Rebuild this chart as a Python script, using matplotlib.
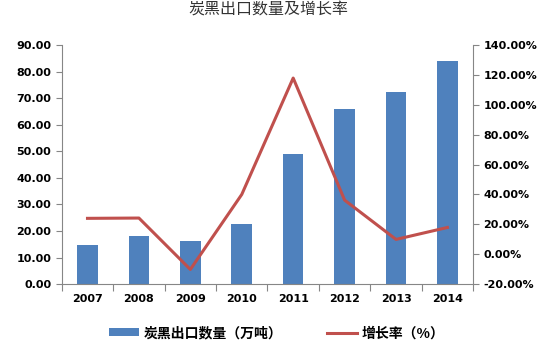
import matplotlib.pyplot as plt
import numpy as np
from matplotlib.ticker import FuncFormatter

plt.rcParams['font.family'] = ['Noto Sans CJK SC', 'DejaVu Sans']
plt.rcParams['axes.unicode_minus'] = False

years = ['2007', '2008', '2009', '2010', '2011', '2012', '2013', '2014']
export_qty = [14.7, 18.2, 16.4, 22.8, 49.1, 65.8, 72.2, 83.8]   # 万吨
growth = [24.0, 24.2, -10.2, 40.0, 117.9, 36.2, 9.9, 17.9]      # %

bar_color = '#4F81BD'
line_color = '#C0504D'
axis_gray = '#868686'

fig = plt.figure(figsize=(5.42, 3.49), dpi=100)
ax = fig.add_axes([0.114, 0.186, 0.759, 0.685])
ax2 = ax.twinx()

x = np.arange(len(years))
bars = ax.bar(x, export_qty, width=0.4, color=bar_color, zorder=2)
line, = ax2.plot(x, growth, color=line_color, lw=2.2, zorder=3)
ax2.set_zorder(ax.get_zorder() + 1)
ax2.patch.set_visible(False)

ax.set_xlim(-0.5, len(years) - 0.5)
ax.set_ylim(0, 90)
ax.set_yticks(np.arange(0, 91, 10))
ax.yaxis.set_major_formatter(FuncFormatter(lambda v, p: f'{v:.2f}'))
ax2.set_ylim(-20, 140)
ax2.set_yticks(np.arange(-20, 141, 20))
ax2.yaxis.set_major_formatter(FuncFormatter(lambda v, p: f'{v:.2f}%'))

# category boundaries carry the tick marks, labels sit at the centres
ax.set_xticks(np.arange(-0.5, len(years), 1))
ax.set_xticklabels([])
ax.set_xticks(x, minor=True)
ax.set_xticklabels(years, minor=True)
ax.tick_params(axis='x', which='minor', length=0, pad=7)
ax.tick_params(axis='x', which='major', length=5, color=axis_gray)

for a in (ax, ax2):
    a.spines['top'].set_visible(False)
    for s in ('left', 'right', 'bottom'):
        a.spines[s].set_color(axis_gray)
    a.tick_params(axis='y', length=4, color=axis_gray, labelsize=8)
    for lbl in a.get_yticklabels():
        lbl.set_fontfamily('DejaVu Sans')
        lbl.set_fontweight('bold')
ax.spines['right'].set_visible(False)
ax2.spines['left'].set_visible(False)
ax2.spines['bottom'].set_visible(False)
for lbl in ax.get_xticklabels(minor=True):
    lbl.set_fontfamily('DejaVu Sans')
    lbl.set_fontweight('bold')
    lbl.set_fontsize(8)

fig.suptitle('炭黑出口数量及增长率', x=0.495, y=0.995, fontsize=11.5, color='#333333')

fig.legend([bars, line], ['炭黑出口数量（万吨）', '增长率（%）'],
           loc='center', bbox_to_anchor=(0.51, 0.045), ncol=2, frameon=False,
           prop={'size': 10, 'weight': 'bold'},
           handlelength=2.2, handleheight=0.5, columnspacing=3.2, handletextpad=0.3)

fig.savefig('out.png', dpi=100)
